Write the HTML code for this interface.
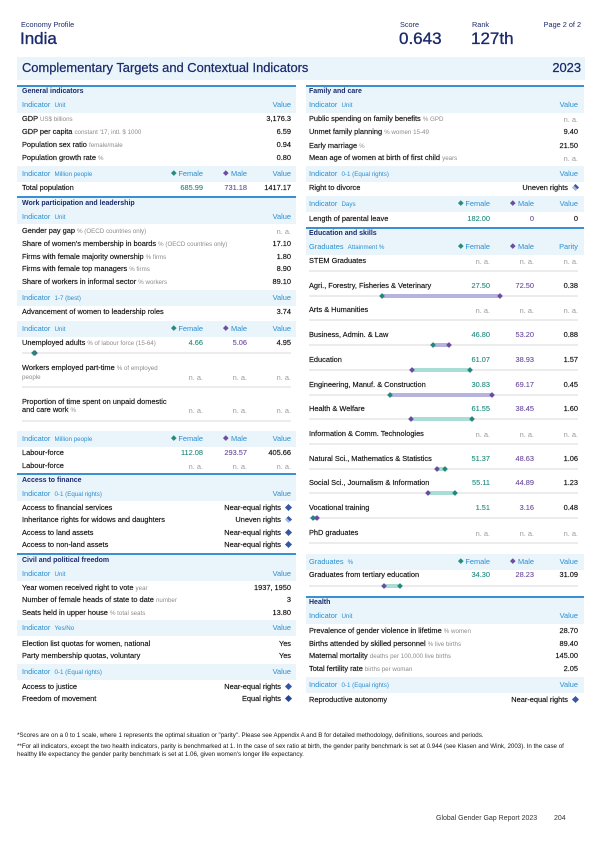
<!DOCTYPE html>
<html><head><meta charset="utf-8">
<style>
body{margin:0;width:600px;height:848px;position:relative;background:#fff;font-family:"Liberation Sans",Arial,sans-serif;overflow:hidden;color:#111}
.a{position:absolute;white-space:nowrap}
.band{position:absolute;background:#e9f4fb}
.ln{position:absolute;height:1.5px;background:#3a90d3}
.row{position:absolute;height:12px;line-height:12px;font-size:7.4px;color:#0d0d0d;white-space:nowrap;width:269px;-webkit-text-stroke:0.15px #0d0d0d}
.L{left:22px}.R{left:309px}
.u{font-size:6.2px;color:#8c8c8c;-webkit-text-stroke:0}
.v,.f,.m{position:absolute;top:0}
.v{right:0}.m{right:44px}.f{right:88px}
.f{color:#1f8a7e;-webkit-text-stroke:0.1px #1f8a7e}.m{color:#6a4a9c;-webkit-text-stroke:0.1px #6a4a9c}
.row .na{color:#9a9a9a;-webkit-text-stroke:0;top:1px}
.t{font-weight:bold;color:#1b2a6b;font-size:7px;-webkit-text-stroke:0}
.h,.h .u,.h .f,.h .m{color:#2a8fd0;-webkit-text-stroke:0}
.dm{display:inline-block;width:3.6px;height:3.6px;transform:rotate(45deg);margin-right:3px;vertical-align:1px}
.df{background:#2a8a7e}.dmm{background:#6c4fa0}
.rd{display:inline-block;width:5px;height:5px;transform:rotate(45deg);margin-left:5px;vertical-align:0px;background:#3557a6}
.un{background:linear-gradient(#3557a6 50%,#a5b7e0 50%)}
.eq{background:#24479a}
.tr{position:absolute;height:2px;background:#ececec}
.bar{position:absolute;height:4px}
.bl{background:#b6b3df}.bm{background:#a9ddd5}
.mk{position:absolute;width:4px;height:4px;transform:rotate(45deg)}
.mf{background:#23877b}.mmk{background:#6a4c9f}
.big{font-size:17px;line-height:20px;color:#1b2a6b;-webkit-text-stroke:0.35px #1b2a6b}
.fn{font-size:6.2px;line-height:8px;color:#111}
</style></head><body>

<!-- page header -->
<div class="a" style="left:21px;top:20px;font-size:7.3px;color:#1b2a6b">Economy Profile</div>
<div class="a big" style="left:20px;top:29px">India</div>
<div class="a" style="left:400px;top:20px;font-size:7.3px;color:#1b2a6b">Score</div>
<div class="a big" style="left:399px;top:29px">0.643</div>
<div class="a" style="left:472px;top:20px;font-size:7.3px;color:#1b2a6b">Rank</div>
<div class="a big" style="left:471px;top:29px">127th</div>
<div class="a" style="right:19px;top:20px;font-size:7.3px;color:#1b2a6b">Page 2 of 2</div>

<div class="band" style="left:17px;top:57px;width:568px;height:23px"></div>
<div class="a" style="left:22px;top:60px;font-size:12.9px;line-height:16px;color:#1b2a6b;-webkit-text-stroke:0.25px #1b2a6b">Complementary Targets and Contextual Indicators</div>
<div class="a" style="right:19px;top:60px;font-size:12.9px;line-height:16px;color:#1b2a6b;-webkit-text-stroke:0.25px #1b2a6b">2023</div>

<!-- LEFT bands -->
<div class="ln" style="left:17px;top:85px;width:279px"></div>
<div class="band" style="left:17px;top:86.5px;width:279px;height:26px"></div>
<div class="band" style="left:17px;top:166px;width:279px;height:16px"></div>
<div class="ln" style="left:17px;top:196px;width:279px"></div>
<div class="band" style="left:17px;top:197.5px;width:279px;height:26px"></div>
<div class="band" style="left:17px;top:290px;width:279px;height:16px"></div>
<div class="band" style="left:17px;top:321px;width:279px;height:16px"></div>
<div class="band" style="left:17px;top:431px;width:279px;height:16px"></div>
<div class="ln" style="left:17px;top:473px;width:279px"></div>
<div class="band" style="left:17px;top:474.5px;width:279px;height:26px"></div>
<div class="ln" style="left:17px;top:553px;width:279px"></div>
<div class="band" style="left:17px;top:554.5px;width:279px;height:26px"></div>
<div class="band" style="left:17px;top:620px;width:279px;height:16px"></div>
<div class="band" style="left:17px;top:664px;width:279px;height:16px"></div>

<!-- RIGHT bands -->
<div class="ln" style="left:306px;top:85px;width:278px"></div>
<div class="band" style="left:306px;top:86.5px;width:278px;height:26px"></div>
<div class="band" style="left:306px;top:166px;width:278px;height:16px"></div>
<div class="band" style="left:306px;top:196px;width:278px;height:16px"></div>
<div class="ln" style="left:306px;top:227px;width:278px"></div>
<div class="band" style="left:306px;top:228.5px;width:278px;height:26px"></div>
<div class="band" style="left:306px;top:554px;width:278px;height:16px"></div>
<div class="ln" style="left:306px;top:596px;width:278px"></div>
<div class="band" style="left:306px;top:597.5px;width:278px;height:26px"></div>
<div class="band" style="left:306px;top:677px;width:278px;height:16px"></div>

<!-- LEFT rows -->
<div class="row L t" style="top:86px">General indicators</div>
<div class="row L h" style="top:99px">Indicator&nbsp; <span class="u">Unit</span><span class="v">Value</span></div>
<div class="row L" style="top:113px">GDP <span class="u">US$ billions</span><span class="v">3,176.3</span></div>
<div class="row L" style="top:126px">GDP per capita <span class="u">constant '17, intl. $ 1000</span><span class="v">6.59</span></div>
<div class="row L" style="top:139px">Population sex ratio <span class="u">female/male</span><span class="v">0.94</span></div>
<div class="row L" style="top:152px">Population growth rate <span class="u">%</span><span class="v">0.80</span></div>
<div class="row L h" style="top:168px">Indicator&nbsp; <span class="u">Million people</span><span class="f"><i class="dm df"></i>Female</span><span class="m"><i class="dm dmm"></i>Male</span><span class="v">Value</span></div>
<div class="row L" style="top:182px">Total population<span class="f">685.99</span><span class="m">731.18</span><span class="v">1417.17</span></div>

<div class="row L t" style="top:198px">Work participation and leadership</div>
<div class="row L h" style="top:211px">Indicator&nbsp; <span class="u">Unit</span><span class="v">Value</span></div>
<div class="row L" style="top:225px">Gender pay gap <span class="u">% (OECD countries only)</span><span class="v na">n. a.</span></div>
<div class="row L" style="top:238px">Share of women's membership in boards <span class="u">% (OECD countries only)</span><span class="v">17.10</span></div>
<div class="row L" style="top:251px">Firms with female majority ownership <span class="u">% firms</span><span class="v">1.80</span></div>
<div class="row L" style="top:263px">Firms with female top managers <span class="u">% firms</span><span class="v">8.90</span></div>
<div class="row L" style="top:276px">Share of workers in informal sector <span class="u">% workers</span><span class="v">89.10</span></div>
<div class="row L h" style="top:292px">Indicator&nbsp; <span class="u">1-7 (best)</span><span class="v">Value</span></div>
<div class="row L" style="top:306px">Advancement of women to leadership roles<span class="v">3.74</span></div>
<div class="row L h" style="top:323px">Indicator&nbsp; <span class="u">Unit</span><span class="f"><i class="dm df"></i>Female</span><span class="m"><i class="dm dmm"></i>Male</span><span class="v">Value</span></div>
<div class="row L" style="top:337px">Unemployed adults <span class="u">% of labour force (15-64)</span><span class="f">4.66</span><span class="m">5.06</span><span class="v">4.95</span></div>
<div class="tr" style="left:22px;top:352px;width:269px"></div>
<div class="mk mmk" style="left:33.4px;top:351px"></div>
<div class="mk mf" style="left:32.3px;top:351px"></div>
<div class="row L" style="top:362px">Workers employed part-time <span class="u">% of employed</span></div>
<div class="row L" style="top:371px"><span class="u">people</span><span class="f na">n. a.</span><span class="m na">n. a.</span><span class="v na">n. a.</span></div>
<div class="tr" style="left:22px;top:386px;width:269px"></div>
<div class="row L" style="top:396px">Proportion of time spent on unpaid domestic</div>
<div class="row L" style="top:404px">and care work <span class="u">%</span><span class="f na">n. a.</span><span class="m na">n. a.</span><span class="v na">n. a.</span></div>
<div class="tr" style="left:22px;top:420px;width:269px"></div>
<div class="row L h" style="top:433px">Indicator&nbsp; <span class="u">Million people</span><span class="f"><i class="dm df"></i>Female</span><span class="m"><i class="dm dmm"></i>Male</span><span class="v">Value</span></div>
<div class="row L" style="top:447px">Labour-force<span class="f">112.08</span><span class="m">293.57</span><span class="v">405.66</span></div>
<div class="row L" style="top:460px">Labour-force<span class="f na">n. a.</span><span class="m na">n. a.</span><span class="v na">n. a.</span></div>

<div class="row L t" style="top:475px">Access to finance</div>
<div class="row L h" style="top:488px">Indicator&nbsp; <span class="u">0-1 (Equal rights)</span><span class="v">Value</span></div>
<div class="row L" style="top:502px">Access to financial services<span class="v">Near-equal rights<i class="rd"></i></span></div>
<div class="row L" style="top:514px">Inheritance rights for widows and daughters<span class="v">Uneven rights<i class="rd un"></i></span></div>
<div class="row L" style="top:527px">Access to land assets<span class="v">Near-equal rights<i class="rd"></i></span></div>
<div class="row L" style="top:539px">Access to non-land assets<span class="v">Near-equal rights<i class="rd"></i></span></div>

<div class="row L t" style="top:555px">Civil and political freedom</div>
<div class="row L h" style="top:568px">Indicator&nbsp; <span class="u">Unit</span><span class="v">Value</span></div>
<div class="row L" style="top:582px">Year women received right to vote <span class="u">year</span><span class="v">1937, 1950</span></div>
<div class="row L" style="top:594px">Number of female heads of state to date <span class="u">number</span><span class="v">3</span></div>
<div class="row L" style="top:607px">Seats held in upper house <span class="u">% total seats</span><span class="v">13.80</span></div>
<div class="row L h" style="top:622px">Indicator&nbsp; <span class="u">Yes/No</span><span class="v">Value</span></div>
<div class="row L" style="top:638px">Election list quotas for women, national<span class="v">Yes</span></div>
<div class="row L" style="top:650px">Party membership quotas, voluntary<span class="v">Yes</span></div>
<div class="row L h" style="top:666px">Indicator&nbsp; <span class="u">0-1 (Equal rights)</span><span class="v">Value</span></div>
<div class="row L" style="top:681px">Access to justice<span class="v">Near-equal rights<i class="rd"></i></span></div>
<div class="row L" style="top:693px">Freedom of movement<span class="v">Equal rights<i class="rd eq"></i></span></div>

<!-- RIGHT rows -->
<div class="row R t" style="top:86px">Family and care</div>
<div class="row R h" style="top:99px">Indicator&nbsp; <span class="u">Unit</span><span class="v">Value</span></div>
<div class="row R" style="top:113px">Public spending on family benefits <span class="u">% GPD</span><span class="v na">n. a.</span></div>
<div class="row R" style="top:126px">Unmet family planning <span class="u">% women 15-49</span><span class="v">9.40</span></div>
<div class="row R" style="top:140px">Early marriage <span class="u">%</span><span class="v">21.50</span></div>
<div class="row R" style="top:152px">Mean age of women at birth of first child <span class="u">years</span><span class="v na">n. a.</span></div>
<div class="row R h" style="top:168px">Indicator&nbsp; <span class="u">0-1 (Equal rights)</span><span class="v">Value</span></div>
<div class="row R" style="top:182px">Right to divorce<span class="v">Uneven rights<i class="rd un"></i></span></div>
<div class="row R h" style="top:198px">Indicator&nbsp; <span class="u">Days</span><span class="f"><i class="dm df"></i>Female</span><span class="m"><i class="dm dmm"></i>Male</span><span class="v">Value</span></div>
<div class="row R" style="top:213px">Length of parental leave<span class="f">182.00</span><span class="m">0</span><span class="v">0</span></div>

<div class="row R t" style="top:228px">Education and skills</div>
<div class="row R h" style="top:241px">Graduates&nbsp; <span class="u">Attainment %</span><span class="f"><i class="dm df"></i>Female</span><span class="m"><i class="dm dmm"></i>Male</span><span class="v">Parity</span></div>

<div class="row R" style="top:255px">STEM Graduates<span class="f na">n. a.</span><span class="m na">n. a.</span><span class="v na">n. a.</span></div>
<div class="tr" style="left:309px;top:270px;width:269px"></div>

<div class="row R" style="top:280px">Agri., Forestry, Fisheries &amp; Veterinary<span class="f">27.50</span><span class="m">72.50</span><span class="v">0.38</span></div>
<div class="tr" style="left:309px;top:295px;width:269px"></div>
<div class="bar bl" style="left:381.6px;top:294px;width:118.8px"></div>
<div class="mk mf" style="left:379.6px;top:294px"></div>
<div class="mk mmk" style="left:498.4px;top:294px"></div>

<div class="row R" style="top:304px">Arts &amp; Humanities<span class="f na">n. a.</span><span class="m na">n. a.</span><span class="v na">n. a.</span></div>
<div class="tr" style="left:309px;top:319px;width:269px"></div>

<div class="row R" style="top:329px">Business, Admin. &amp; Law<span class="f">46.80</span><span class="m">53.20</span><span class="v">0.88</span></div>
<div class="tr" style="left:309px;top:344px;width:269px"></div>
<div class="bar bl" style="left:432.6px;top:343px;width:16.8px"></div>
<div class="mk mf" style="left:430.6px;top:343px"></div>
<div class="mk mmk" style="left:447.4px;top:343px"></div>

<div class="row R" style="top:354px">Education<span class="f">61.07</span><span class="m">38.93</span><span class="v">1.57</span></div>
<div class="tr" style="left:309px;top:369px;width:269px"></div>
<div class="bar bm" style="left:411.8px;top:368px;width:58.4px"></div>
<div class="mk mmk" style="left:409.8px;top:368px"></div>
<div class="mk mf" style="left:468.2px;top:368px"></div>

<div class="row R" style="top:379px">Engineering, Manuf. &amp; Construction<span class="f">30.83</span><span class="m">69.17</span><span class="v">0.45</span></div>
<div class="tr" style="left:309px;top:394px;width:269px"></div>
<div class="bar bl" style="left:390.4px;top:393px;width:101.2px"></div>
<div class="mk mf" style="left:388.4px;top:393px"></div>
<div class="mk mmk" style="left:489.6px;top:393px"></div>

<div class="row R" style="top:403px">Health &amp; Welfare<span class="f">61.55</span><span class="m">38.45</span><span class="v">1.60</span></div>
<div class="tr" style="left:309px;top:418px;width:269px"></div>
<div class="bar bm" style="left:410.5px;top:417px;width:61px"></div>
<div class="mk mmk" style="left:408.5px;top:417px"></div>
<div class="mk mf" style="left:469.5px;top:417px"></div>

<div class="row R" style="top:428px">Information &amp; Comm. Technologies<span class="f na">n. a.</span><span class="m na">n. a.</span><span class="v na">n. a.</span></div>
<div class="tr" style="left:309px;top:443px;width:269px"></div>

<div class="row R" style="top:453px">Natural Sci., Mathematics &amp; Statistics<span class="f">51.37</span><span class="m">48.63</span><span class="v">1.06</span></div>
<div class="tr" style="left:309px;top:468px;width:269px"></div>
<div class="bar bm" style="left:437.4px;top:467px;width:7.2px"></div>
<div class="mk mmk" style="left:435.4px;top:467px"></div>
<div class="mk mf" style="left:442.6px;top:467px"></div>

<div class="row R" style="top:477px">Social Sci., Journalism &amp; Information<span class="f">55.11</span><span class="m">44.89</span><span class="v">1.23</span></div>
<div class="tr" style="left:309px;top:492px;width:269px"></div>
<div class="bar bm" style="left:427.5px;top:491px;width:27px"></div>
<div class="mk mmk" style="left:425.5px;top:491px"></div>
<div class="mk mf" style="left:452.5px;top:491px"></div>

<div class="row R" style="top:502px">Vocational training<span class="f">1.51</span><span class="m">3.16</span><span class="v">0.48</span></div>
<div class="tr" style="left:309px;top:517px;width:269px"></div>
<div class="bar bl" style="left:313px;top:516px;width:4.3px"></div>
<div class="mk mf" style="left:311px;top:516px"></div>
<div class="mk mmk" style="left:315.3px;top:516px"></div>

<div class="row R" style="top:527px">PhD graduates<span class="f na">n. a.</span><span class="m na">n. a.</span><span class="v na">n. a.</span></div>
<div class="tr" style="left:309px;top:542px;width:269px"></div>

<div class="row R h" style="top:556px">Graduates&nbsp; <span class="u">%</span><span class="f"><i class="dm df"></i>Female</span><span class="m"><i class="dm dmm"></i>Male</span><span class="v">Value</span></div>
<div class="row R" style="top:569px">Graduates from tertiary education<span class="f">34.30</span><span class="m">28.23</span><span class="v">31.09</span></div>
<div class="tr" style="left:309px;top:585px;width:269px"></div>
<div class="bar bm" style="left:383.5px;top:584px;width:16.1px"></div>
<div class="mk mmk" style="left:381.5px;top:584px"></div>
<div class="mk mf" style="left:397.6px;top:584px"></div>

<div class="row R t" style="top:597px">Health</div>
<div class="row R h" style="top:610px">Indicator&nbsp; <span class="u">Unit</span><span class="v">Value</span></div>
<div class="row R" style="top:625px">Prevalence of gender violence in lifetime <span class="u">% women</span><span class="v">28.70</span></div>
<div class="row R" style="top:638px">Births attended by skilled personnel <span class="u">% live births</span><span class="v">89.40</span></div>
<div class="row R" style="top:650px">Maternal mortality <span class="u">deaths per 100,000 live births</span><span class="v">145.00</span></div>
<div class="row R" style="top:663px">Total fertility rate <span class="u">births per woman</span><span class="v">2.05</span></div>
<div class="row R h" style="top:679px">Indicator&nbsp; <span class="u">0-1 (Equal rights)</span><span class="v">Value</span></div>
<div class="row R" style="top:694px">Reproductive autonomy<span class="v">Near-equal rights<i class="rd"></i></span></div>

<!-- footnotes -->
<div class="a fn" style="left:17px;top:732px">*Scores are on a 0 to 1 scale, where 1 represents the optimal situation or "parity". Please see Appendix A and B for detailed methodology, definitions, sources and periods.</div>
<div class="a fn" style="left:17px;top:743px">**For all indicators, except the two health indicators, parity is benchmarked at 1. In the case of sex ratio at birth, the gender parity benchmark is set at 0.944 (see Klasen and Wink, 2003). In the case of<br>healthy life expectancy the gender parity benchmark is set at 1.06, given women's longer life expectancy.</div>

<div class="a" style="left:436px;top:814px;font-size:7px;line-height:10px;color:#333">Global Gender Gap Report 2023</div>
<div class="a" style="left:554px;top:814px;font-size:7px;line-height:10px;color:#333">204</div>

</body></html>
